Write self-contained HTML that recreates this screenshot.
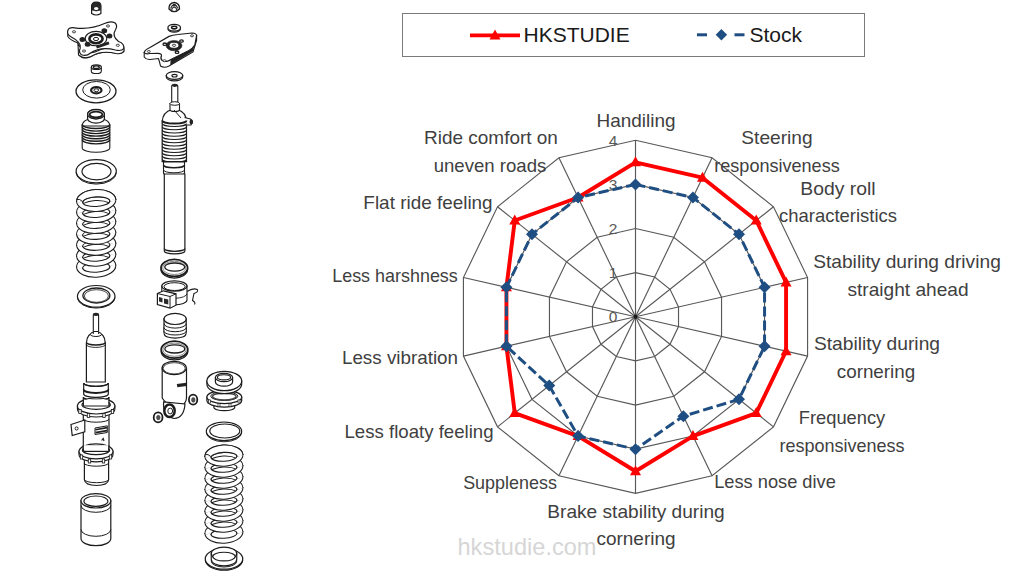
<!DOCTYPE html>
<html><head><meta charset="utf-8"><style>
html,body{margin:0;padding:0;background:#fff;}
body{width:1024px;height:576px;position:relative;overflow:hidden;font-family:"Liberation Sans",sans-serif;}
.lb{position:absolute;width:300px;text-align:center;font-size:18.4px;line-height:18.4px;height:20px;color:#404040;white-space:nowrap;}
.tk{position:absolute;width:20px;text-align:center;font-size:15.5px;line-height:17px;color:#595959;}
#legend{position:absolute;left:401.5px;top:12.5px;width:461.5px;height:42.5px;border:1.3px solid #7a7a7a;}
.lt{position:absolute;font-size:21px;line-height:21px;color:#1a1a1a;top:10.7px;}
#wm{position:absolute;left:457.5px;top:536.0px;font-size:23.6px;line-height:23.6px;color:#d6d6d6;}
svg{position:absolute;left:0;top:0;}
</style></head><body>
<div class="tk" style="left:603px;top:308.3px;">0</div>
<div class="tk" style="left:603px;top:264.2px;">1</div>
<div class="tk" style="left:603px;top:220.1px;">2</div>
<div class="tk" style="left:603px;top:175.9px;">3</div>
<div class="tk" style="left:603px;top:131.8px;">4</div>
<svg width="1024" height="576" viewBox="0 0 1024 576">
<path d="M91.6,6 Q91.6,2.2 96.2,2.2 Q100.9,2.2 100.9,6 L100.9,13.5 Q96.2,16.5 91.6,13.5 Z" fill="#fff" stroke="#1c1c1c" stroke-width="1.2" />
<path d="M91.8,5.5 Q92,2.6 96.2,2.6 Q100.5,2.6 100.7,5.5 L100.5,10 Q96.2,12 92,10 Z" fill="#2a2a2a" stroke="#1c1c1c" stroke-width="0.6" />
<ellipse cx="96.2" cy="8.5" rx="2.2" ry="1.6" fill="#fff"/>
<path d="M67.8,33.5 L67.8,36.5 Q70,40 78,43 L79.5,52 L80,56 Q84,59.5 90,57 Q101,50 115.5,53 Q121,54 123.8,51.5 L123.8,48.5" fill="#fff" stroke="#1c1c1c" stroke-width="1.1" />
<path d="M78,44 L78.5,55 Q84,59.5 91,56.5 Q101,50 116,53.5 Q122,54.5 124,51 L123.8,47 Q110,45 95,52 Q85,55 78,44 Z" fill="#fff" stroke="#1c1c1c" stroke-width="1.1" />
<path d="M67.8,30.5 Q69,27 74.5,27.8 Q90,30 104.5,23.5 Q110.5,20.8 114.8,22.8 Q118,25.5 115.6,29.5 Q111.5,36 118.5,41.5 Q124.5,43.5 123.8,48.5 Q121.5,51.5 115.5,50 Q101,46 90.5,53 Q86.5,56.5 81.5,54.8 Q78.2,52.2 80.2,48.2 Q82,42.5 70.5,36.5 Q66.6,34 67.8,30.5 Z" fill="#fff" stroke="#1c1c1c" stroke-width="1.2" />
<ellipse cx="96.00" cy="38.60" rx="10.80" ry="7.20" fill="#fff" stroke="#1c1c1c" stroke-width="1.1"/>
<ellipse cx="96.00" cy="38.80" rx="6.60" ry="4.40" fill="#fff" stroke="#1c1c1c" stroke-width="2.6"/>
<ellipse cx="96.00" cy="39.00" rx="2.60" ry="1.60" fill="#fff" stroke="#1c1c1c" stroke-width="1.0"/>
<ellipse cx="82.4" cy="39.6" rx="2.9" ry="2.5" fill="#222"/>
<ellipse cx="87.6" cy="44.3" rx="2.9" ry="2.5" fill="#222"/>
<ellipse cx="104.3" cy="30.7" rx="2.9" ry="2.5" fill="#222"/>
<ellipse cx="109.5" cy="36" rx="2.9" ry="2.5" fill="#222"/>
<ellipse cx="74" cy="31.8" rx="1.6" ry="1.1" fill="#fff" stroke="#1c1c1c" stroke-width="0.8"/>
<ellipse cx="108" cy="26" rx="1.6" ry="1.1" fill="#fff" stroke="#1c1c1c" stroke-width="0.8"/>
<ellipse cx="117.8" cy="45.3" rx="1.6" ry="1.1" fill="#fff" stroke="#1c1c1c" stroke-width="0.8"/>
<ellipse cx="84" cy="51" rx="1.6" ry="1.1" fill="#fff" stroke="#1c1c1c" stroke-width="0.8"/>
<line x1="96.5" y1="47.2" x2="109" y2="42.9" stroke="#222" stroke-width="2.8"/>
<path d="M91.30,67.20 L91.30,71.20 A5.00,2.30 0 0 0 101.30,71.20 L101.30,67.20 Z" fill="#fff" stroke="#1c1c1c" stroke-width="1.1"/>
<ellipse cx="96.30" cy="67.20" rx="5.00" ry="2.30" fill="#fff" stroke="#1c1c1c" stroke-width="1.1"/>
<ellipse cx="96.30" cy="67.20" rx="3.00" ry="1.30" fill="#fff" stroke="#1c1c1c" stroke-width="1.4"/>
<ellipse cx="96.00" cy="91.30" rx="20.00" ry="11.50" fill="#fff" stroke="#1c1c1c" stroke-width="1.3"/>
<ellipse cx="96.50" cy="89.80" rx="13.80" ry="8.30" fill="#fff" stroke="#1c1c1c" stroke-width="1.0"/>
<ellipse cx="96.30" cy="90.20" rx="5.20" ry="3.10" fill="#fff" stroke="#1c1c1c" stroke-width="2.2"/>
<ellipse cx="96.30" cy="90.20" rx="2.40" ry="1.40" fill="#fff" stroke="#1c1c1c" stroke-width="1.0"/>
<path d="M82.20,125.00 L82.20,148.00 A13.80,4.20 0 0 0 109.80,148.00 L109.80,125.00 Z" fill="#fff" stroke="#1c1c1c" stroke-width="1.1"/>
<path d="M82.2,126 Q82.2,121.5 87.6,119.5 L104.4,119.5 Q109.8,121.5 109.8,126 Z" fill="#fff" stroke="#1c1c1c" stroke-width="1.1" />
<path d="M82.20,124.50 A13.80,4.00 0 0 0 109.80,124.50" fill="none" stroke="#1c1c1c" stroke-width="1.35"/>
<path d="M82.20,127.05 A13.80,4.00 0 0 0 109.80,127.05" fill="none" stroke="#1c1c1c" stroke-width="1.35"/>
<path d="M82.20,129.60 A13.80,4.00 0 0 0 109.80,129.60" fill="none" stroke="#1c1c1c" stroke-width="1.35"/>
<path d="M82.20,132.15 A13.80,4.00 0 0 0 109.80,132.15" fill="none" stroke="#1c1c1c" stroke-width="1.35"/>
<path d="M82.20,134.70 A13.80,4.00 0 0 0 109.80,134.70" fill="none" stroke="#1c1c1c" stroke-width="1.35"/>
<path d="M82.20,137.25 A13.80,4.00 0 0 0 109.80,137.25" fill="none" stroke="#1c1c1c" stroke-width="1.35"/>
<path d="M82.20,139.80 A13.80,4.00 0 0 0 109.80,139.80" fill="none" stroke="#1c1c1c" stroke-width="1.35"/>
<path d="M87.60,114.20 L87.60,118.50 A8.40,4.70 0 0 0 104.40,118.50 L104.40,114.20 Z" fill="#fff" stroke="#1c1c1c" stroke-width="1.2"/>
<ellipse cx="96.00" cy="114.20" rx="8.40" ry="4.70" fill="#fff" stroke="#1c1c1c" stroke-width="1.2"/>
<ellipse cx="96.00" cy="114.20" rx="8.40" ry="4.70" fill="#fff" stroke="#1c1c1c" stroke-width="1.3"/>
<ellipse cx="96.00" cy="114.60" rx="6.40" ry="2.90" fill="#fff" stroke="#1c1c1c" stroke-width="1.8"/>
<ellipse cx="96.20" cy="171.20" rx="20.10" ry="11.60" fill="#fff" stroke="#1c1c1c" stroke-width="1.2"/>
<ellipse cx="96.50" cy="171.60" rx="14.50" ry="8.20" fill="#fff" stroke="#1c1c1c" stroke-width="1.2"/>
<path d="M76.10,172.50 A20.10,11.60 0 0 0 116.30,172.50" fill="none" stroke="#1c1c1c" stroke-width="1.0"/>
<g transform="rotate(-3 96.20 200.50)">
<path d="M76.60,200.50 A19.60,11.00 0 0 1 115.80,200.50 L109.80,201.70 A13.60,4.80 0 0 0 82.60,201.70 Z" fill="#fff" stroke="#1c1c1c" stroke-width="1.0" />
<path d="M77.20,200.60 L82.00,201.60 M115.20,200.60 L110.40,201.60" stroke="#fff" stroke-width="1.8"/>
</g>
<g transform="rotate(-3 96.20 211.45)">
<path d="M76.60,211.45 A19.60,11.00 0 0 1 115.80,211.45 L109.80,212.65 A13.60,4.80 0 0 0 82.60,212.65 Z" fill="#fff" stroke="#1c1c1c" stroke-width="1.0" />
<path d="M77.20,211.55 L82.00,212.55 M115.20,211.55 L110.40,212.55" stroke="#fff" stroke-width="1.8"/>
</g>
<g transform="rotate(-3 96.20 222.40)">
<path d="M76.60,222.40 A19.60,11.00 0 0 1 115.80,222.40 L109.80,223.60 A13.60,4.80 0 0 0 82.60,223.60 Z" fill="#fff" stroke="#1c1c1c" stroke-width="1.0" />
<path d="M77.20,222.50 L82.00,223.50 M115.20,222.50 L110.40,223.50" stroke="#fff" stroke-width="1.8"/>
</g>
<g transform="rotate(-3 96.20 233.35)">
<path d="M76.60,233.35 A19.60,11.00 0 0 1 115.80,233.35 L109.80,234.55 A13.60,4.80 0 0 0 82.60,234.55 Z" fill="#fff" stroke="#1c1c1c" stroke-width="1.0" />
<path d="M77.20,233.45 L82.00,234.45 M115.20,233.45 L110.40,234.45" stroke="#fff" stroke-width="1.8"/>
</g>
<g transform="rotate(-3 96.20 244.30)">
<path d="M76.60,244.30 A19.60,11.00 0 0 1 115.80,244.30 L109.80,245.50 A13.60,4.80 0 0 0 82.60,245.50 Z" fill="#fff" stroke="#1c1c1c" stroke-width="1.0" />
<path d="M77.20,244.40 L82.00,245.40 M115.20,244.40 L110.40,245.40" stroke="#fff" stroke-width="1.8"/>
</g>
<g transform="rotate(-3 96.20 255.25)">
<path d="M76.60,255.25 A19.60,11.00 0 0 1 115.80,255.25 L109.80,256.45 A13.60,4.80 0 0 0 82.60,256.45 Z" fill="#fff" stroke="#1c1c1c" stroke-width="1.0" />
<path d="M77.20,255.35 L82.00,256.35 M115.20,255.35 L110.40,256.35" stroke="#fff" stroke-width="1.8"/>
</g>
<g transform="rotate(-3 96.20 266.20)">
<path d="M76.60,266.20 A19.60,11.00 0 0 1 115.80,266.20 L109.80,267.40 A13.60,4.80 0 0 0 82.60,267.40 Z" fill="#fff" stroke="#1c1c1c" stroke-width="1.0" />
<path d="M77.20,266.30 L82.00,267.30 M115.20,266.30 L110.40,267.30" stroke="#fff" stroke-width="1.8"/>
</g>
<g transform="rotate(-3 96.20 266.20)">
<path d="M76.60,266.20 A19.60,11.00 0 0 0 115.80,266.20 L109.80,267.40 A13.60,4.80 0 0 1 82.60,267.40 Z" fill="#fff" stroke="#1c1c1c" stroke-width="1.1" />
<path d="M77.20,266.30 L82.00,267.30 M115.20,266.30 L110.40,267.30" stroke="#fff" stroke-width="1.8"/>
</g>
<g transform="rotate(-3 96.20 255.25)">
<path d="M76.60,255.25 A19.60,11.00 0 0 0 115.80,255.25 L109.80,256.45 A13.60,4.80 0 0 1 82.60,256.45 Z" fill="#fff" stroke="#1c1c1c" stroke-width="1.1" />
<path d="M77.20,255.35 L82.00,256.35 M115.20,255.35 L110.40,256.35" stroke="#fff" stroke-width="1.8"/>
</g>
<g transform="rotate(-3 96.20 244.30)">
<path d="M76.60,244.30 A19.60,11.00 0 0 0 115.80,244.30 L109.80,245.50 A13.60,4.80 0 0 1 82.60,245.50 Z" fill="#fff" stroke="#1c1c1c" stroke-width="1.1" />
<path d="M77.20,244.40 L82.00,245.40 M115.20,244.40 L110.40,245.40" stroke="#fff" stroke-width="1.8"/>
</g>
<g transform="rotate(-3 96.20 233.35)">
<path d="M76.60,233.35 A19.60,11.00 0 0 0 115.80,233.35 L109.80,234.55 A13.60,4.80 0 0 1 82.60,234.55 Z" fill="#fff" stroke="#1c1c1c" stroke-width="1.1" />
<path d="M77.20,233.45 L82.00,234.45 M115.20,233.45 L110.40,234.45" stroke="#fff" stroke-width="1.8"/>
</g>
<g transform="rotate(-3 96.20 222.40)">
<path d="M76.60,222.40 A19.60,11.00 0 0 0 115.80,222.40 L109.80,223.60 A13.60,4.80 0 0 1 82.60,223.60 Z" fill="#fff" stroke="#1c1c1c" stroke-width="1.1" />
<path d="M77.20,222.50 L82.00,223.50 M115.20,222.50 L110.40,223.50" stroke="#fff" stroke-width="1.8"/>
</g>
<g transform="rotate(-3 96.20 211.45)">
<path d="M76.60,211.45 A19.60,11.00 0 0 0 115.80,211.45 L109.80,212.65 A13.60,4.80 0 0 1 82.60,212.65 Z" fill="#fff" stroke="#1c1c1c" stroke-width="1.1" />
<path d="M77.20,211.55 L82.00,212.55 M115.20,211.55 L110.40,212.55" stroke="#fff" stroke-width="1.8"/>
</g>
<g transform="rotate(-3 96.20 200.50)">
<path d="M76.60,200.50 A19.60,11.00 0 0 0 115.80,200.50 L109.80,201.70 A13.60,4.80 0 0 1 82.60,201.70 Z" fill="#fff" stroke="#1c1c1c" stroke-width="1.1" />
<path d="M77.20,200.60 L82.00,201.60 M115.20,200.60 L110.40,201.60" stroke="#fff" stroke-width="1.8"/>
</g>
<g transform="rotate(-3 96.20 200.50)">
<path d="M76.60,200.50 A19.60,11.00 0 0 1 115.80,200.50 L109.80,201.70 A13.60,4.80 0 0 0 82.60,201.70 Z" fill="#fff" stroke="#1c1c1c" stroke-width="1.1" />
<path d="M77.20,200.60 L82.00,201.60 M115.20,200.60 L110.40,201.60" stroke="#fff" stroke-width="1.8"/>
</g>
<path d="M77.10,199.50 Q79.60,198.50 82.60,201.50" fill="none" stroke="#1c1c1c" stroke-width="1.0"/>
<ellipse cx="96.20" cy="296.30" rx="18.80" ry="10.80" fill="#fff" stroke="#1c1c1c" stroke-width="1.2"/>
<ellipse cx="96.40" cy="295.50" rx="13.50" ry="7.50" fill="#fff" stroke="#1c1c1c" stroke-width="1.3"/>
<ellipse cx="96.40" cy="296.00" rx="12.00" ry="6.30" fill="#fff" stroke="#1c1c1c" stroke-width="0.8"/>
<path d="M77.40,297.30 A18.80,10.80 0 0 0 115.00,297.30" fill="none" stroke="#1c1c1c" stroke-width="1.0"/>
<path d="M93.3,315 Q93.3,313.2 95.95,313.2 Q98.6,313.2 98.6,315 L98.6,335 L93.3,335 Z" fill="#fff" stroke="#1c1c1c" stroke-width="1.1" />
<ellipse cx="95.95" cy="314.6" rx="2.4" ry="1.5" fill="#222"/>
<path d="M86.4,382 L86.4,343 Q86.6,333.5 95.85,331.6 Q105.1,333.5 105.3,343 L105.3,382 Z" fill="#fff" stroke="#1c1c1c" stroke-width="1.2" />
<ellipse cx="95.90" cy="334.30" rx="5.60" ry="2.20" fill="#fff" stroke="#1c1c1c" stroke-width="1.0"/>
<path d="M93.3,334 L93.3,331.5 L98.6,331.5 L98.6,334" fill="#fff" stroke="#1c1c1c" stroke-width="1.0" />
<path d="M86.40,342.20 A9.45,2.80 0 0 0 105.30,342.20" fill="none" stroke="#1c1c1c" stroke-width="1.3"/>
<path d="M86.40,344.60 A9.45,2.80 0 0 0 105.30,344.60" fill="none" stroke="#1c1c1c" stroke-width="0.9"/>
<path d="M83.7,383 L83.7,394 A12.3,3.4 0 0 0 108.3,394 L108.3,383 A12.3,3.4 0 0 1 83.7,383 Z" fill="#fff" stroke="#1c1c1c" stroke-width="1.2" />
<path d="M83.70,383.00 A12.30,3.40 0 0 0 108.30,383.00" fill="none" stroke="#1c1c1c" stroke-width="1.1"/>
<path d="M83.70,389.50 A12.30,3.40 0 0 0 108.30,389.50" fill="none" stroke="#1c1c1c" stroke-width="2.0"/>
<path d="M83.3,397 L83.3,446 L84.4,462 L84.4,479.8 Q85,485.5 96.5,485.5 Q108,485.5 108.6,479.8 L108.6,462 L109,446 L109,397 A12.85,3.4 0 0 1 83.3,397 Z" fill="#fff" stroke="#1c1c1c" stroke-width="1.2" />
<path d="M83.30,397.00 A12.85,3.40 0 0 0 109.00,397.00" fill="none" stroke="#1c1c1c" stroke-width="1.0"/>
<path d="M84.40,479.50 A12.10,3.20 0 0 0 108.60,479.50" fill="none" stroke="#1c1c1c" stroke-width="1.0"/>
<path d="M77.40,406.00 L77.40,409.00 A18.75,8.00 0 0 0 114.90,409.00 L114.90,406.00 Z" fill="#fff" stroke="#1c1c1c" stroke-width="1.1" />
<path d="M77.40,406.00 A18.75,8.00 0 1 0 114.90,406.00 A18.75,8.00 0 1 0 77.40,406.00 Z M81.95,404.80 A14.20,4.60 0 1 0 110.35,404.80 A14.20,4.60 0 1 0 81.95,404.80 Z" fill="#fff" stroke="#1c1c1c" stroke-width="1.2" fill-rule="evenodd"/>
<rect x="83.90" y="399.70" width="24.50" height="5.10" fill="#fff"/>
<path d="M83.30,399.90 L83.30,404.80 M109.00,399.90 L109.00,404.80" stroke="#1c1c1c" stroke-width="1.2"/>
<rect x="78.8" y="409.5" width="2.4" height="4" fill="#fff" stroke="#1c1c1c" stroke-width="0.8"/>
<rect x="87.3" y="413.5" width="2.4" height="4" fill="#fff" stroke="#1c1c1c" stroke-width="0.8"/>
<rect x="102.8" y="413.5" width="2.4" height="4" fill="#fff" stroke="#1c1c1c" stroke-width="0.8"/>
<rect x="111.3" y="409.5" width="2.4" height="4" fill="#fff" stroke="#1c1c1c" stroke-width="0.8"/>
<path d="M83.30,419.00 A12.85,3.20 0 0 0 109.00,419.00" fill="none" stroke="#1c1c1c" stroke-width="1.0"/>
<path d="M71,424.5 L84.8,420 L84.8,431.8 L72.2,435.5 Z" fill="#fff" stroke="#1c1c1c" stroke-width="1.2" />
<ellipse cx="76.6" cy="428.5" rx="1.5" ry="1.6" fill="#fff" stroke="#1c1c1c" stroke-width="1.0"/>
<path d="M95,428 L107.3,425.8 L107.3,432.5 L95,434.5 Z" fill="#fff" stroke="#1c1c1c" stroke-width="1.0" />
<path d="M95.5,429.8 L107,427.6 M95.5,432.6 L107,430.6" stroke="#222" stroke-width="1.6"/>
<path d="M101.6,440.5 L103.2,438.5 L104,441" stroke="#222" stroke-width="1.2" fill="none"/>
<path d="M79.00,451.40 L79.00,454.40 A17.00,7.50 0 0 0 113.00,454.40 L113.00,451.40 Z" fill="#fff" stroke="#1c1c1c" stroke-width="1.1" />
<path d="M79.00,451.40 A17.00,7.50 0 1 0 113.00,451.40 A17.00,7.50 0 1 0 79.00,451.40 Z M82.40,450.20 A13.60,4.50 0 1 0 109.60,450.20 A13.60,4.50 0 1 0 82.40,450.20 Z" fill="#fff" stroke="#1c1c1c" stroke-width="1.2" fill-rule="evenodd"/>
<rect x="83.75" y="445.20" width="24.50" height="5.00" fill="#fff"/>
<path d="M83.15,445.40 L83.15,450.20 M108.85,445.40 L108.85,450.20" stroke="#1c1c1c" stroke-width="1.2"/>
<rect x="80.3" y="455" width="2.4" height="4" fill="#fff" stroke="#1c1c1c" stroke-width="0.8"/>
<rect x="88.3" y="459" width="2.4" height="4" fill="#fff" stroke="#1c1c1c" stroke-width="0.8"/>
<rect x="102.3" y="459" width="2.4" height="4" fill="#fff" stroke="#1c1c1c" stroke-width="0.8"/>
<rect x="109.3" y="455" width="2.4" height="4" fill="#fff" stroke="#1c1c1c" stroke-width="0.8"/>
<path d="M84.00,463.00 A12.30,3.20 0 0 0 108.60,463.00" fill="none" stroke="#1c1c1c" stroke-width="1.0"/>
<path d="M81.00,500.80 L81.00,538.50 A14.90,7.20 0 0 0 110.80,538.50 L110.80,500.80 Z" fill="#fff" stroke="#1c1c1c" stroke-width="1.2"/>
<ellipse cx="95.90" cy="500.80" rx="14.90" ry="7.20" fill="#fff" stroke="#1c1c1c" stroke-width="1.2"/>
<ellipse cx="95.90" cy="501.20" rx="12.00" ry="5.20" fill="#fff" stroke="#1c1c1c" stroke-width="1.1"/>
<path d="M81.00,505.50 A14.90,6.80 0 0 0 110.80,505.50" fill="none" stroke="#1c1c1c" stroke-width="1.0"/>
<path d="M81.00,529.50 A14.90,6.80 0 0 0 110.80,529.50" fill="none" stroke="#1c1c1c" stroke-width="1.0"/>
<path d="M169,9 Q168.6,3.2 174.2,2.5 Q179.8,3.2 179.5,9 Q177,11.6 174.2,11.6 Q171.2,11.6 169,9 Z" fill="#fff" stroke="#1c1c1c" stroke-width="1.3" />
<path d="M170.5,8.5 Q172,5 174.2,4.5 Q176.5,5 178,8.5 M171.5,10.5 Q172,7.5 174.2,7 Q176.5,7.5 177,10.5" stroke="#2a2a2a" stroke-width="1.1" fill="none"/>
<ellipse cx="174.3" cy="5.2" rx="1.8" ry="1.2" fill="#2a2a2a"/>
<path d="M167.90,28.80 A6.30,3.40 0 0 0 180.50,28.80" fill="none" stroke="#1c1c1c" stroke-width="1.2"/>
<ellipse cx="174.20" cy="27.80" rx="6.30" ry="3.40" fill="#fff" stroke="#1c1c1c" stroke-width="1.3"/>
<ellipse cx="174.20" cy="27.60" rx="2.60" ry="1.30" fill="#fff" stroke="#1c1c1c" stroke-width="1.6"/>
<path d="M144.2,52.5 L144.2,57 Q146,59.8 150,59.5 L158.5,58.5 L159.5,62 L160.5,66 Q164,68.5 169,66 L193,52 L196.6,40.5 L196.6,35.6 Z" fill="#fff" stroke="#1c1c1c" stroke-width="1.1" />
<path d="M170.6,64.7 L192.8,51 L194,45.5 L171,59 Z" fill="#222" stroke="#1c1c1c" stroke-width="0.6" />
<path d="M144.2,52.5 Q145,49.5 150,47.5 L169,36.4 Q172,35 178,34.5 L192,33 Q196.6,33.2 196.6,35.6 L194.8,45 Q193,48 189,50.5 L168.3,60.9 Q165,62.3 162.2,60.5 Q160,58.6 161.5,55.8 Q161.7,53.5 158,53.3 L150,53.5 Q145,54.5 144.2,52.5 Z" fill="#fff" stroke="#1c1c1c" stroke-width="1.2" />
<ellipse cx="174.00" cy="45.60" rx="8.00" ry="5.20" fill="#222" stroke="#1c1c1c" stroke-width="0.5"/>
<ellipse cx="174.00" cy="45.30" rx="4.80" ry="3.00" fill="#fff" stroke="#1c1c1c" stroke-width="0.8"/>
<ellipse cx="174.00" cy="45.30" rx="1.70" ry="1.10" fill="#fff" stroke="#1c1c1c" stroke-width="0.8"/>
<ellipse cx="164.8" cy="44.2" rx="1.8" ry="1.2" fill="#fff" stroke="#1c1c1c" stroke-width="1.3"/>
<ellipse cx="181.5" cy="41" rx="1.8" ry="1.2" fill="#fff" stroke="#1c1c1c" stroke-width="1.3"/>
<ellipse cx="177" cy="52.2" rx="1.8" ry="1.2" fill="#fff" stroke="#1c1c1c" stroke-width="1.3"/>
<ellipse cx="148.8" cy="51.5" rx="1.5" ry="1" fill="#fff" stroke="#1c1c1c" stroke-width="0.8"/>
<ellipse cx="192" cy="35.8" rx="1.5" ry="1" fill="#fff" stroke="#1c1c1c" stroke-width="0.8"/>
<ellipse cx="164.5" cy="60.7" rx="1.5" ry="1" fill="#fff" stroke="#1c1c1c" stroke-width="0.8"/>
<path d="M166.30,75.50 L166.30,77.00 A8.20,3.80 0 0 0 182.70,77.00 L182.70,75.50 Z" fill="#fff" stroke="#1c1c1c" stroke-width="1.2"/>
<ellipse cx="174.50" cy="75.50" rx="8.20" ry="3.80" fill="#fff" stroke="#1c1c1c" stroke-width="1.2"/>
<ellipse cx="174.50" cy="75.70" rx="2.60" ry="1.30" fill="#fff" stroke="#1c1c1c" stroke-width="1.1"/>
<path d="M171.7,86.5 Q171.7,84.3 174.75,84.3 Q177.8,84.3 177.8,86.5 L177.8,104 L171.7,104 Z" fill="#fff" stroke="#1c1c1c" stroke-width="1.1" />
<ellipse cx="174.75" cy="85.6" rx="2.6" ry="1.4" fill="#222"/>
<path d="M162.2,161.6 L162.2,122 Q162.5,112 172,109.5 L177,109.5 Q186.5,112 186.5,122 L186.5,161.6 Z" fill="#fff" stroke="#1c1c1c" stroke-width="1.2" />
<path d="M170,103.5 L170,109.5 A4.75,2 0 0 0 179.5,109.5 L179.5,103.5 Z" fill="#fff" stroke="#1c1c1c" stroke-width="1.1" />
<ellipse cx="174.75" cy="103.50" rx="4.75" ry="1.80" fill="#fff" stroke="#1c1c1c" stroke-width="1.0"/>
<path d="M174,110 L181,118" stroke="#1c1c1c" stroke-width="1.0"/>
<path d="M184.5,117.5 L190.5,119 Q193.5,121.7 191,125 L184.5,125" fill="#fff" stroke="#1c1c1c" stroke-width="1.1" />
<ellipse cx="191.3" cy="122" rx="1.8" ry="2.4" fill="#222"/>
<path d="M162.20,120.50 A12.15,3.00 0 0 0 186.50,120.50" fill="none" stroke="#1c1c1c" stroke-width="2.0"/>
<path d="M162.20,123.50 A12.15,3.00 0 0 0 186.50,123.50" fill="none" stroke="#1c1c1c" stroke-width="1.1"/>
<path d="M162.20,126.75 A12.15,3.00 0 0 0 186.50,126.75" fill="none" stroke="#1c1c1c" stroke-width="1.1"/>
<path d="M162.20,130.00 A12.15,3.00 0 0 0 186.50,130.00" fill="none" stroke="#1c1c1c" stroke-width="1.1"/>
<path d="M162.20,133.25 A12.15,3.00 0 0 0 186.50,133.25" fill="none" stroke="#1c1c1c" stroke-width="1.1"/>
<path d="M162.20,136.50 A12.15,3.00 0 0 0 186.50,136.50" fill="none" stroke="#1c1c1c" stroke-width="1.1"/>
<path d="M162.20,139.75 A12.15,3.00 0 0 0 186.50,139.75" fill="none" stroke="#1c1c1c" stroke-width="1.1"/>
<path d="M162.20,143.00 A12.15,3.00 0 0 0 186.50,143.00" fill="none" stroke="#1c1c1c" stroke-width="1.1"/>
<path d="M162.20,146.25 A12.15,3.00 0 0 0 186.50,146.25" fill="none" stroke="#1c1c1c" stroke-width="1.1"/>
<path d="M162.20,149.50 A12.15,3.00 0 0 0 186.50,149.50" fill="none" stroke="#1c1c1c" stroke-width="1.1"/>
<path d="M162.20,152.75 A12.15,3.00 0 0 0 186.50,152.75" fill="none" stroke="#1c1c1c" stroke-width="1.1"/>
<path d="M162.20,156.00 A12.15,3.00 0 0 0 186.50,156.00" fill="none" stroke="#1c1c1c" stroke-width="1.1"/>
<path d="M162.20,159.25 A12.15,3.00 0 0 0 186.50,159.25" fill="none" stroke="#1c1c1c" stroke-width="1.1"/>
<path d="M163.50,162.00 L163.50,173.00 A10.50,2.80 0 0 0 184.50,173.00 L184.50,162.00 Z" fill="#fff" stroke="#1c1c1c" stroke-width="1.1"/>
<path d="M163.50,165.00 A10.50,2.80 0 0 0 184.50,165.00" fill="none" stroke="#1c1c1c" stroke-width="1.5"/>
<path d="M163.50,170.00 A10.50,2.80 0 0 0 184.50,170.00" fill="none" stroke="#1c1c1c" stroke-width="1.0"/>
<path d="M164.30,174.00 L164.30,251.00 A10.30,2.80 0 0 0 184.90,251.00 L184.90,174.00 Z" fill="#fff" stroke="#1c1c1c" stroke-width="1.2"/>
<path d="M164.30,248.50 A10.30,2.80 0 0 0 184.90,248.50" fill="none" stroke="#1c1c1c" stroke-width="1.3"/>
<ellipse cx="174.30" cy="267.90" rx="13.30" ry="8.50" fill="#fff" stroke="#1c1c1c" stroke-width="1.8"/>
<ellipse cx="174.30" cy="267.90" rx="11.60" ry="6.60" fill="none" stroke="#888" stroke-width="1.0"/>
<ellipse cx="174.70" cy="267.10" rx="10.00" ry="4.10" fill="#fff" stroke="#1c1c1c" stroke-width="1.3"/>
<path d="M161.00,269.60 A13.30,8.50 0 0 0 187.60,269.60" fill="none" stroke="#1c1c1c" stroke-width="1.2"/>
<path d="M161.8,286 L161.8,300 A12.6,4.8 0 0 0 187,300 L187,286 Z" fill="#fff" stroke="#1c1c1c" stroke-width="1.1" />
<ellipse cx="174.40" cy="286.00" rx="12.60" ry="5.20" fill="#fff" stroke="#1c1c1c" stroke-width="1.2"/>
<ellipse cx="174.60" cy="286.60" rx="10.60" ry="3.90" fill="#fff" stroke="#1c1c1c" stroke-width="1.0"/>
<path d="M161.80,293.50 A12.60,4.80 0 0 0 187.00,293.50" fill="none" stroke="#1c1c1c" stroke-width="0.9"/>
<path d="M157.4,293.5 L163.5,290.8 L176,293.8 L176,305.2 L170,308.2 L157.4,304.5 Z" fill="#fff" stroke="#1c1c1c" stroke-width="1.2" />
<path d="M157.4,293.5 L170,296.5 L176,293.8 M170,296.5 L170,308.2" stroke="#1c1c1c" stroke-width="1.0" fill="none"/>
<path d="M159,297 L162.5,298 L162.5,302.5 L159,301.5 Z M164,298.5 L168.3,299.6 L168.3,304.5 L164,303.4 Z" fill="#2a2a2a"/>
<path d="M187,291.5 Q193,287.5 197.3,289.5 Q198.8,292 194,293.5 L192.5,300.5 Q196,302.5 194.5,304.5" fill="none" stroke="#1c1c1c" stroke-width="1.1" />
<path d="M164,318.9 L164,325 Q163.5,334 164.5,334.5 A10.6,3.6 0 0 0 185.7,334.5 Q186.7,334 186.2,325 L186.2,318.9 Z" fill="#fff" stroke="#1c1c1c" stroke-width="1.2" />
<ellipse cx="175.10" cy="318.90" rx="11.10" ry="5.60" fill="#fff" stroke="#1c1c1c" stroke-width="1.2"/>
<path d="M164.00,323.50 A11.10,4.60 0 0 0 186.20,323.50" fill="none" stroke="#1c1c1c" stroke-width="1.0"/>
<path d="M163.90,327.50 A11.20,4.20 0 0 0 186.30,327.50" fill="none" stroke="#1c1c1c" stroke-width="1.0"/>
<path d="M163.80,331.00 A11.30,4.00 0 0 0 186.40,331.00" fill="none" stroke="#1c1c1c" stroke-width="1.0"/>
<ellipse cx="174.50" cy="349.70" rx="13.30" ry="8.50" fill="#fff" stroke="#1c1c1c" stroke-width="1.8"/>
<ellipse cx="174.50" cy="349.70" rx="11.60" ry="6.60" fill="none" stroke="#888" stroke-width="1.0"/>
<ellipse cx="174.80" cy="348.90" rx="10.00" ry="4.10" fill="#fff" stroke="#1c1c1c" stroke-width="1.3"/>
<path d="M161.20,351.40 A13.30,8.50 0 0 0 187.80,351.40" fill="none" stroke="#1c1c1c" stroke-width="1.2"/>
<path d="M162.2,368 L162.2,398 Q166,404 172,406 L184,404 Q186.5,401 186.5,398 L186.5,368 Z" fill="#fff" stroke="#1c1c1c" stroke-width="1.2" />
<path d="M163.6,402 Q162.5,416 174,418.5 Q184,418 185,404 Z" fill="#fff" stroke="#1c1c1c" stroke-width="1.2" />
<ellipse cx="174.20" cy="368.00" rx="12.10" ry="6.60" fill="#fff" stroke="#1c1c1c" stroke-width="1.2"/>
<ellipse cx="174.20" cy="368.30" rx="11.00" ry="5.60" fill="#fff" stroke="#1c1c1c" stroke-width="0.8"/>
<rect x="177" y="383.5" width="9.5" height="3.2" fill="#222" transform="rotate(-8 181 385)"/>
<ellipse cx="169.50" cy="410.80" rx="5.20" ry="6.30" fill="#fff" stroke="#1c1c1c" stroke-width="2.5"/>
<ellipse cx="170.20" cy="411.00" rx="2.40" ry="2.90" fill="#fff" stroke="#1c1c1c" stroke-width="1.0"/>
<ellipse cx="193.10" cy="399.70" rx="4.20" ry="5.00" fill="#fff" stroke="#1c1c1c" stroke-width="1.8"/>
<ellipse cx="193.30" cy="399.90" rx="1.80" ry="2.30" fill="#555" stroke="#1c1c1c" stroke-width="0.5"/>
<ellipse cx="158.10" cy="417.40" rx="4.40" ry="5.00" fill="#fff" stroke="#1c1c1c" stroke-width="1.8"/>
<ellipse cx="158.30" cy="417.60" rx="1.80" ry="2.30" fill="#555" stroke="#1c1c1c" stroke-width="0.5"/>
<path d="M213.90,403.00 L213.90,407.50 A10.40,3.20 0 0 0 234.70,407.50 L234.70,403.00 Z" fill="#fff" stroke="#1c1c1c" stroke-width="1.2"/>
<path d="M206.9,397 L206.9,400.5 A17.4,6.6 0 0 0 241.7,400.5 L241.7,397 Z" fill="#fff" stroke="#1c1c1c" stroke-width="1.2" />
<ellipse cx="224.30" cy="397.00" rx="17.40" ry="6.60" fill="#fff" stroke="#1c1c1c" stroke-width="1.2"/>
<ellipse cx="224.30" cy="396.20" rx="13.60" ry="4.30" fill="#fff" stroke="#1c1c1c" stroke-width="1.0"/>
<ellipse cx="224.30" cy="396.60" rx="11.80" ry="3.40" fill="none" stroke="#444" stroke-width="1.4"/>
<rect x="208.5" y="399.9" width="2" height="3.2" fill="#fff" stroke="#1c1c1c" stroke-width="0.7"/>
<rect x="218" y="403.4" width="2" height="3.2" fill="#fff" stroke="#1c1c1c" stroke-width="0.7"/>
<rect x="229" y="403.4" width="2" height="3.2" fill="#fff" stroke="#1c1c1c" stroke-width="0.7"/>
<rect x="238" y="399.9" width="2" height="3.2" fill="#fff" stroke="#1c1c1c" stroke-width="0.7"/>
<path d="M206.90,381.00 L206.90,384.00 A17.40,9.70 0 0 0 241.70,384.00 L241.70,381.00 Z" fill="#fff" stroke="#1c1c1c" stroke-width="1.2"/>
<ellipse cx="224.30" cy="381.00" rx="17.40" ry="9.70" fill="#fff" stroke="#1c1c1c" stroke-width="1.2"/>
<path d="M215.40,377.50 L215.40,382.00 A8.60,4.20 0 0 0 232.60,382.00 L232.60,377.50 Z" fill="#fff" stroke="#1c1c1c" stroke-width="1.2"/>
<ellipse cx="224.00" cy="377.50" rx="8.60" ry="4.20" fill="#fff" stroke="#1c1c1c" stroke-width="1.2"/>
<ellipse cx="224.00" cy="377.30" rx="6.60" ry="2.60" fill="#fff" stroke="#1c1c1c" stroke-width="1.1"/>
<ellipse cx="224.00" cy="431.30" rx="17.70" ry="9.30" fill="#fff" stroke="#1c1c1c" stroke-width="1.2"/>
<ellipse cx="224.80" cy="431.00" rx="15.00" ry="7.00" fill="#fff" stroke="#1c1c1c" stroke-width="1.2"/>
<path d="M206.30,432.50 A17.70,9.30 0 0 0 241.70,432.50" fill="none" stroke="#1c1c1c" stroke-width="0.9"/>
<g transform="rotate(-3 223.90 455.60)">
<path d="M204.90,455.60 A19.00,10.60 0 0 1 242.90,455.60 L236.90,456.80 A13.00,4.40 0 0 0 210.90,456.80 Z" fill="#fff" stroke="#1c1c1c" stroke-width="1.0" />
<path d="M205.50,455.70 L210.30,456.70 M242.30,455.70 L237.50,456.70" stroke="#fff" stroke-width="1.8"/>
</g>
<g transform="rotate(-3 223.90 466.60)">
<path d="M204.90,466.60 A19.00,10.60 0 0 1 242.90,466.60 L236.90,467.80 A13.00,4.40 0 0 0 210.90,467.80 Z" fill="#fff" stroke="#1c1c1c" stroke-width="1.0" />
<path d="M205.50,466.70 L210.30,467.70 M242.30,466.70 L237.50,467.70" stroke="#fff" stroke-width="1.8"/>
</g>
<g transform="rotate(-3 223.90 477.60)">
<path d="M204.90,477.60 A19.00,10.60 0 0 1 242.90,477.60 L236.90,478.80 A13.00,4.40 0 0 0 210.90,478.80 Z" fill="#fff" stroke="#1c1c1c" stroke-width="1.0" />
<path d="M205.50,477.70 L210.30,478.70 M242.30,477.70 L237.50,478.70" stroke="#fff" stroke-width="1.8"/>
</g>
<g transform="rotate(-3 223.90 488.60)">
<path d="M204.90,488.60 A19.00,10.60 0 0 1 242.90,488.60 L236.90,489.80 A13.00,4.40 0 0 0 210.90,489.80 Z" fill="#fff" stroke="#1c1c1c" stroke-width="1.0" />
<path d="M205.50,488.70 L210.30,489.70 M242.30,488.70 L237.50,489.70" stroke="#fff" stroke-width="1.8"/>
</g>
<g transform="rotate(-3 223.90 499.60)">
<path d="M204.90,499.60 A19.00,10.60 0 0 1 242.90,499.60 L236.90,500.80 A13.00,4.40 0 0 0 210.90,500.80 Z" fill="#fff" stroke="#1c1c1c" stroke-width="1.0" />
<path d="M205.50,499.70 L210.30,500.70 M242.30,499.70 L237.50,500.70" stroke="#fff" stroke-width="1.8"/>
</g>
<g transform="rotate(-3 223.90 510.60)">
<path d="M204.90,510.60 A19.00,10.60 0 0 1 242.90,510.60 L236.90,511.80 A13.00,4.40 0 0 0 210.90,511.80 Z" fill="#fff" stroke="#1c1c1c" stroke-width="1.0" />
<path d="M205.50,510.70 L210.30,511.70 M242.30,510.70 L237.50,511.70" stroke="#fff" stroke-width="1.8"/>
</g>
<g transform="rotate(-3 223.90 521.60)">
<path d="M204.90,521.60 A19.00,10.60 0 0 1 242.90,521.60 L236.90,522.80 A13.00,4.40 0 0 0 210.90,522.80 Z" fill="#fff" stroke="#1c1c1c" stroke-width="1.0" />
<path d="M205.50,521.70 L210.30,522.70 M242.30,521.70 L237.50,522.70" stroke="#fff" stroke-width="1.8"/>
</g>
<g transform="rotate(-3 223.90 532.60)">
<path d="M204.90,532.60 A19.00,10.60 0 0 1 242.90,532.60 L236.90,533.80 A13.00,4.40 0 0 0 210.90,533.80 Z" fill="#fff" stroke="#1c1c1c" stroke-width="1.0" />
<path d="M205.50,532.70 L210.30,533.70 M242.30,532.70 L237.50,533.70" stroke="#fff" stroke-width="1.8"/>
</g>
<g transform="rotate(-3 223.90 532.60)">
<path d="M204.90,532.60 A19.00,10.60 0 0 0 242.90,532.60 L236.90,533.80 A13.00,4.40 0 0 1 210.90,533.80 Z" fill="#fff" stroke="#1c1c1c" stroke-width="1.1" />
<path d="M205.50,532.70 L210.30,533.70 M242.30,532.70 L237.50,533.70" stroke="#fff" stroke-width="1.8"/>
</g>
<g transform="rotate(-3 223.90 521.60)">
<path d="M204.90,521.60 A19.00,10.60 0 0 0 242.90,521.60 L236.90,522.80 A13.00,4.40 0 0 1 210.90,522.80 Z" fill="#fff" stroke="#1c1c1c" stroke-width="1.1" />
<path d="M205.50,521.70 L210.30,522.70 M242.30,521.70 L237.50,522.70" stroke="#fff" stroke-width="1.8"/>
</g>
<g transform="rotate(-3 223.90 510.60)">
<path d="M204.90,510.60 A19.00,10.60 0 0 0 242.90,510.60 L236.90,511.80 A13.00,4.40 0 0 1 210.90,511.80 Z" fill="#fff" stroke="#1c1c1c" stroke-width="1.1" />
<path d="M205.50,510.70 L210.30,511.70 M242.30,510.70 L237.50,511.70" stroke="#fff" stroke-width="1.8"/>
</g>
<g transform="rotate(-3 223.90 499.60)">
<path d="M204.90,499.60 A19.00,10.60 0 0 0 242.90,499.60 L236.90,500.80 A13.00,4.40 0 0 1 210.90,500.80 Z" fill="#fff" stroke="#1c1c1c" stroke-width="1.1" />
<path d="M205.50,499.70 L210.30,500.70 M242.30,499.70 L237.50,500.70" stroke="#fff" stroke-width="1.8"/>
</g>
<g transform="rotate(-3 223.90 488.60)">
<path d="M204.90,488.60 A19.00,10.60 0 0 0 242.90,488.60 L236.90,489.80 A13.00,4.40 0 0 1 210.90,489.80 Z" fill="#fff" stroke="#1c1c1c" stroke-width="1.1" />
<path d="M205.50,488.70 L210.30,489.70 M242.30,488.70 L237.50,489.70" stroke="#fff" stroke-width="1.8"/>
</g>
<g transform="rotate(-3 223.90 477.60)">
<path d="M204.90,477.60 A19.00,10.60 0 0 0 242.90,477.60 L236.90,478.80 A13.00,4.40 0 0 1 210.90,478.80 Z" fill="#fff" stroke="#1c1c1c" stroke-width="1.1" />
<path d="M205.50,477.70 L210.30,478.70 M242.30,477.70 L237.50,478.70" stroke="#fff" stroke-width="1.8"/>
</g>
<g transform="rotate(-3 223.90 466.60)">
<path d="M204.90,466.60 A19.00,10.60 0 0 0 242.90,466.60 L236.90,467.80 A13.00,4.40 0 0 1 210.90,467.80 Z" fill="#fff" stroke="#1c1c1c" stroke-width="1.1" />
<path d="M205.50,466.70 L210.30,467.70 M242.30,466.70 L237.50,467.70" stroke="#fff" stroke-width="1.8"/>
</g>
<g transform="rotate(-3 223.90 455.60)">
<path d="M204.90,455.60 A19.00,10.60 0 0 0 242.90,455.60 L236.90,456.80 A13.00,4.40 0 0 1 210.90,456.80 Z" fill="#fff" stroke="#1c1c1c" stroke-width="1.1" />
<path d="M205.50,455.70 L210.30,456.70 M242.30,455.70 L237.50,456.70" stroke="#fff" stroke-width="1.8"/>
</g>
<g transform="rotate(-3 223.90 455.60)">
<path d="M204.90,455.60 A19.00,10.60 0 0 1 242.90,455.60 L236.90,456.80 A13.00,4.40 0 0 0 210.90,456.80 Z" fill="#fff" stroke="#1c1c1c" stroke-width="1.1" />
<path d="M205.50,455.70 L210.30,456.70 M242.30,455.70 L237.50,456.70" stroke="#fff" stroke-width="1.8"/>
</g>
<path d="M205.40,454.60 Q207.90,453.60 210.90,456.60" fill="none" stroke="#1c1c1c" stroke-width="1.0"/>
<ellipse cx="224.00" cy="558.80" rx="18.75" ry="10.40" fill="#fff" stroke="#1c1c1c" stroke-width="1.2"/>
<path d="M205.25,559.80 A18.75,10.40 0 0 0 242.75,559.80" fill="none" stroke="#1c1c1c" stroke-width="1.1"/>
<path d="M211.25,553.60 L211.25,559.50 A12.75,6.40 0 0 0 236.75,559.50 L236.75,553.60 Z" fill="#fff" stroke="#1c1c1c" stroke-width="1.2"/>
<ellipse cx="224.00" cy="553.60" rx="12.75" ry="6.40" fill="#fff" stroke="#1c1c1c" stroke-width="1.2"/>
<ellipse cx="224.00" cy="556.60" rx="11.20" ry="4.30" fill="#fff" stroke="#1c1c1c" stroke-width="1.1"/>
<path d="M211.25,561.20 A12.75,5.80 0 0 0 236.75,561.20" fill="none" stroke="#1c1c1c" stroke-width="1.0"/>
<polygon points="635.50,272.68 654.65,277.04 670.00,289.29 678.52,306.98 678.52,326.62 670.00,344.31 654.65,356.56 635.50,360.93 616.35,356.56 601.00,344.31 592.48,326.62 592.48,306.98 601.00,289.29 616.35,277.04" fill="none" stroke="#585858" stroke-width="1.15"/>
<polygon points="635.50,228.55 673.79,237.29 704.50,261.78 721.54,297.16 721.54,336.44 704.50,371.82 673.79,396.31 635.50,405.05 597.21,396.31 566.50,371.82 549.46,336.44 549.46,297.16 566.50,261.78 597.21,237.29" fill="none" stroke="#585858" stroke-width="1.15"/>
<polygon points="635.50,184.43 692.94,197.53 738.99,234.27 764.56,287.34 764.56,346.26 738.99,399.33 692.94,436.07 635.50,449.18 578.06,436.07 532.01,399.33 506.44,346.26 506.44,287.34 532.01,234.27 578.06,197.53" fill="none" stroke="#585858" stroke-width="1.15"/>
<polygon points="635.50,140.30 712.08,157.78 773.49,206.75 807.57,277.53 807.57,356.07 773.49,426.85 712.08,475.82 635.50,493.30 558.92,475.82 497.51,426.85 463.43,356.07 463.43,277.53 497.51,206.75 558.92,157.78" fill="none" stroke="#585858" stroke-width="1.15"/>
<line x1="635.5" y1="316.8" x2="635.50" y2="140.30" stroke="#585858" stroke-width="1.15"/>
<line x1="635.5" y1="316.8" x2="712.08" y2="157.78" stroke="#585858" stroke-width="1.15"/>
<line x1="635.5" y1="316.8" x2="773.49" y2="206.75" stroke="#585858" stroke-width="1.15"/>
<line x1="635.5" y1="316.8" x2="807.57" y2="277.53" stroke="#585858" stroke-width="1.15"/>
<line x1="635.5" y1="316.8" x2="807.57" y2="356.07" stroke="#585858" stroke-width="1.15"/>
<line x1="635.5" y1="316.8" x2="773.49" y2="426.85" stroke="#585858" stroke-width="1.15"/>
<line x1="635.5" y1="316.8" x2="712.08" y2="475.82" stroke="#585858" stroke-width="1.15"/>
<line x1="635.5" y1="316.8" x2="635.50" y2="493.30" stroke="#585858" stroke-width="1.15"/>
<line x1="635.5" y1="316.8" x2="558.92" y2="475.82" stroke="#585858" stroke-width="1.15"/>
<line x1="635.5" y1="316.8" x2="497.51" y2="426.85" stroke="#585858" stroke-width="1.15"/>
<line x1="635.5" y1="316.8" x2="463.43" y2="356.07" stroke="#585858" stroke-width="1.15"/>
<line x1="635.5" y1="316.8" x2="463.43" y2="277.53" stroke="#585858" stroke-width="1.15"/>
<line x1="635.5" y1="316.8" x2="497.51" y2="206.75" stroke="#585858" stroke-width="1.15"/>
<line x1="635.5" y1="316.8" x2="558.92" y2="157.78" stroke="#585858" stroke-width="1.15"/>
<polygon points="635.50,162.36 702.51,177.66 756.24,220.51 786.07,282.43 786.07,351.17 756.24,413.09 692.94,436.07 635.50,471.24 578.06,436.07 514.76,413.09 506.44,346.26 506.44,287.34 514.76,220.51 578.06,197.53" fill="none" stroke="#ff0000" stroke-width="3.9" stroke-linejoin="round"/>
<path d="M635.50,156.36 L641.00,166.36 L630.00,166.36Z" fill="#ff0000"/>
<path d="M702.51,171.66 L708.01,181.66 L697.01,181.66Z" fill="#ff0000"/>
<path d="M756.24,214.51 L761.74,224.51 L750.74,224.51Z" fill="#ff0000"/>
<path d="M786.07,276.43 L791.57,286.43 L780.57,286.43Z" fill="#ff0000"/>
<path d="M786.07,345.17 L791.57,355.17 L780.57,355.17Z" fill="#ff0000"/>
<path d="M756.24,407.09 L761.74,417.09 L750.74,417.09Z" fill="#ff0000"/>
<path d="M692.94,430.07 L698.44,440.07 L687.44,440.07Z" fill="#ff0000"/>
<path d="M635.50,465.24 L641.00,475.24 L630.00,475.24Z" fill="#ff0000"/>
<path d="M578.06,430.07 L583.56,440.07 L572.56,440.07Z" fill="#ff0000"/>
<path d="M514.76,407.09 L520.26,417.09 L509.26,417.09Z" fill="#ff0000"/>
<path d="M506.44,340.26 L511.94,350.26 L500.94,350.26Z" fill="#ff0000"/>
<path d="M506.44,281.34 L511.94,291.34 L500.94,291.34Z" fill="#ff0000"/>
<path d="M514.76,214.51 L520.26,224.51 L509.26,224.51Z" fill="#ff0000"/>
<path d="M578.06,191.53 L583.56,201.53 L572.56,201.53Z" fill="#ff0000"/>
<circle cx="635.5" cy="316.8" r="2" fill="#1a1a1a"/>
<polygon points="635.50,184.43 692.94,197.53 738.99,234.27 764.56,287.34 764.56,346.26 738.99,399.33 683.36,416.19 635.50,449.18 578.06,436.07 549.25,385.58 506.44,346.26 506.44,287.34 532.01,234.27 578.06,197.53" fill="none" stroke="#1f4e82" stroke-width="3" stroke-dasharray="10,4"/>
<path d="M635.50,178.43 L641.50,184.43 L635.50,190.43 L629.50,184.43Z" fill="#1f4e82"/>
<path d="M692.94,191.53 L698.94,197.53 L692.94,203.53 L686.94,197.53Z" fill="#1f4e82"/>
<path d="M738.99,228.27 L744.99,234.27 L738.99,240.27 L732.99,234.27Z" fill="#1f4e82"/>
<path d="M764.56,281.34 L770.56,287.34 L764.56,293.34 L758.56,287.34Z" fill="#1f4e82"/>
<path d="M764.56,340.26 L770.56,346.26 L764.56,352.26 L758.56,346.26Z" fill="#1f4e82"/>
<path d="M738.99,393.33 L744.99,399.33 L738.99,405.33 L732.99,399.33Z" fill="#1f4e82"/>
<path d="M683.36,410.19 L689.36,416.19 L683.36,422.19 L677.36,416.19Z" fill="#1f4e82"/>
<path d="M635.50,443.18 L641.50,449.18 L635.50,455.18 L629.50,449.18Z" fill="#1f4e82"/>
<path d="M578.06,430.07 L584.06,436.07 L578.06,442.07 L572.06,436.07Z" fill="#1f4e82"/>
<path d="M549.25,379.58 L555.25,385.58 L549.25,391.58 L543.25,385.58Z" fill="#1f4e82"/>
<path d="M506.44,340.26 L512.44,346.26 L506.44,352.26 L500.44,346.26Z" fill="#1f4e82"/>
<path d="M506.44,281.34 L512.44,287.34 L506.44,293.34 L500.44,287.34Z" fill="#1f4e82"/>
<path d="M532.01,228.27 L538.01,234.27 L532.01,240.27 L526.01,234.27Z" fill="#1f4e82"/>
<path d="M578.06,191.53 L584.06,197.53 L578.06,203.53 L572.06,197.53Z" fill="#1f4e82"/>
</svg>
<div class="lb" style="left:485.9px;top:112.4px;transform:scaleX(1.030)">Handiling</div>
<div class="lb" style="left:627.4px;top:128.7px;transform:scaleX(1.041)">Steering</div>
<div class="lb" style="left:627.4px;top:156.7px;transform:scaleX(0.982)">responsiveness</div>
<div class="lb" style="left:687.8px;top:180.3px;transform:scaleX(1.053)">Body roll</div>
<div class="lb" style="left:687.8px;top:207.1px;transform:scaleX(1.004)">characteristics</div>
<div class="lb" style="left:757.1px;top:253.2px;transform:scaleX(1.043)">Stability during driving</div>
<div class="lb" style="left:757.5px;top:281.1px;transform:scaleX(1.039)">straight ahead</div>
<div class="lb" style="left:726.5px;top:335.1px;transform:scaleX(1.045)">Stability during</div>
<div class="lb" style="left:726.2px;top:362.6px;transform:scaleX(1.024)">cornering</div>
<div class="lb" style="left:691.6px;top:409.3px;transform:scaleX(0.994)">Frequency</div>
<div class="lb" style="left:691.6px;top:437.1px;transform:scaleX(0.979)">responsiveness</div>
<div class="lb" style="left:625.2px;top:473.1px;transform:scaleX(0.991)">Less nose dive</div>
<div class="lb" style="left:486.3px;top:502.8px;transform:scaleX(1.039)">Brake stability during</div>
<div class="lb" style="left:486.3px;top:530.1px;transform:scaleX(1.032)">cornering</div>
<div class="lb" style="left:360.3px;top:473.5px;transform:scaleX(0.975)">Suppleness</div>
<div class="lb" style="left:268.9px;top:422.6px;transform:scaleX(1.013)">Less floaty feeling</div>
<div class="lb" style="left:249.9px;top:348.6px;transform:scaleX(1.023)">Less vibration</div>
<div class="lb" style="left:244.6px;top:267.4px;transform:scaleX(0.975)">Less harshness</div>
<div class="lb" style="left:278.4px;top:194.1px;transform:scaleX(1.028)">Flat ride feeling</div>
<div class="lb" style="left:340.5px;top:128.8px;transform:scaleX(1.031)">Ride comfort on</div>
<div class="lb" style="left:340.4px;top:157.1px;transform:scaleX(1.010)">uneven roads</div>
<div id="legend">
<svg width="461" height="42" style="position:absolute;left:0;top:0">
<line x1="67" y1="21.3" x2="117" y2="21.3" stroke="#ff0000" stroke-width="3.8"/>
<path d="M92,15.5 L97.5,25.5 L86.5,25.5Z" fill="#ff0000"/>
<line x1="294" y1="20.8" x2="304" y2="20.8" stroke="#1f4e82" stroke-width="3"/>
<line x1="331.5" y1="20.8" x2="341.5" y2="20.8" stroke="#1f4e82" stroke-width="3"/>
<path d="M318.4,15.1 L324.1,20.8 L318.4,26.5 L312.7,20.8Z" fill="#1f4e82"/>
</svg>
<div class="lt" style="left:121px">HKSTUDIE</div>
<div class="lt" style="left:347px">Stock</div>
</div>
<div id="wm">hkstudie.com</div>
</body></html>
